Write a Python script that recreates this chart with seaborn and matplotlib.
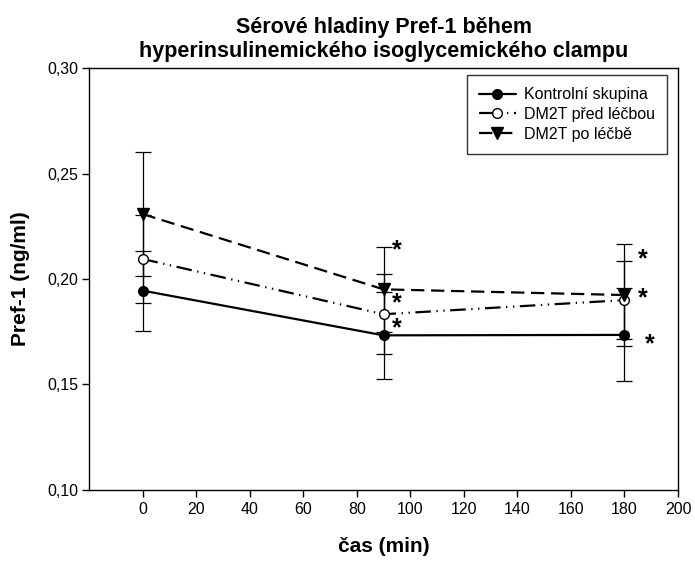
import numpy as np
import pandas as pd
import seaborn as sns
import matplotlib
matplotlib.use("Agg")
import matplotlib.pyplot as plt
from matplotlib.ticker import FuncFormatter, MultipleLocator

# ---- data ----
time_min = [0, 90, 180]
groups = ["Kontrolní skupina", "DM2T před léčbou", "DM2T po léčbě"]
kontrol_mean = [0.1945, 0.1733, 0.1735]
kontrol_err = [0.0190, 0.0207, 0.0220]
pred_mean = [0.2095, 0.1833, 0.1900]
pred_err = [0.0210, 0.0190, 0.0185]
po_mean = [0.2308, 0.1951, 0.1924]
po_err = [0.0294, 0.0202, 0.0240]
# significance asterisks (x, y)
star_x = [93, 93, 93, 185, 185, 187.5]
star_y = [0.2137, 0.1886, 0.1768, 0.2095, 0.1910, 0.1692]

title = "Sérové hladiny Pref-1 během\nhyperinsulinemického isoglycemického clampu"
xlabel = "čas (min)"
ylabel = "Pref-1 (ng/ml)"

sns.set_theme(style="ticks")
plt.rcParams["font.family"] = ["Liberation Sans", "DejaVu Sans"]
plt.rcParams["text.color"] = "black"
plt.rcParams["axes.labelcolor"] = "black"

df = pd.DataFrame({
    "time": time_min * 3,
    "value": kontrol_mean + pred_mean + po_mean,
    "err": kontrol_err + pred_err + po_err,
    "group": [g for g in groups for _ in time_min],
})

fig = plt.figure(figsize=(6.95, 5.63), dpi=100)
ax = fig.add_axes([89 / 695, 1 - 490 / 563, 589 / 695, 422 / 563])

styles = {
    groups[0]: dict(marker="o", mfc="black", ls="-", lw=1.6, ms=7),
    groups[1]: dict(marker="o", mfc="white", ls=(0, (7, 2.5, 0.6, 2.5, 0.6, 2.5)), lw=1.6, ms=7),
    groups[2]: dict(marker="v", mfc="black", ls=(0, (6, 3)), lw=1.6, ms=8),
}

for g in groups:
    sub = df[df["group"] == g]
    ax.errorbar(sub["time"], sub["value"], yerr=sub["err"], fmt="none",
                ecolor="black", elinewidth=0.9, capsize=6, capthick=0.9, zorder=2)

for g in groups:
    sub = df[df["group"] == g]
    st = styles[g]
    sns.lineplot(data=sub, x="time", y="value", ax=ax, color="black",
                 marker=st["marker"], markerfacecolor=st["mfc"],
                 markeredgecolor="black", markeredgewidth=1.0,
                 markersize=st["ms"], linestyle=st["ls"], linewidth=st["lw"],
                 label=g, zorder=3, errorbar=None)

for sx, sy in zip(star_x, star_y):
    ax.text(sx, sy, "*", fontsize=18, fontweight="bold", ha="left", va="center", color="black")

ax.set_xlim(-20, 200)
ax.set_ylim(0.10, 0.30)
ax.set_xticks(np.arange(0, 201, 20))
ax.yaxis.set_major_locator(MultipleLocator(0.05))
ax.yaxis.set_major_formatter(FuncFormatter(lambda v, p: f"{v:.2f}".replace(".", ",")))
ax.tick_params(axis="both", direction="out", length=5, width=1, labelsize=11.5,
               colors="black", labelcolor="black")
ax.tick_params(axis="y", pad=3)
ax.tick_params(axis="x", pad=4)
for sp in ax.spines.values():
    sp.set_color("black")
    sp.set_linewidth(1)

ax.set_xlabel(xlabel, fontsize=15, fontweight="bold", labelpad=14, color="black")
ax.set_ylabel(ylabel, fontsize=15, fontweight="bold", labelpad=12, color="black")
ax.set_title(title, fontsize=15.5, fontweight="bold", pad=8, linespacing=1.2, color="black")

leg = ax.legend(loc="upper right", bbox_to_anchor=(0.981, 0.983), borderaxespad=0,
                frameon=True, fancybox=False, edgecolor="black", fontsize=11.5,
                handlelength=2.3, labelspacing=0.3, borderpad=0.75, handletextpad=0.5)
leg.get_frame().set_linewidth(1)
for t in leg.get_texts():
    t.set_color("black")

fig.savefig("out.png", dpi=100)
